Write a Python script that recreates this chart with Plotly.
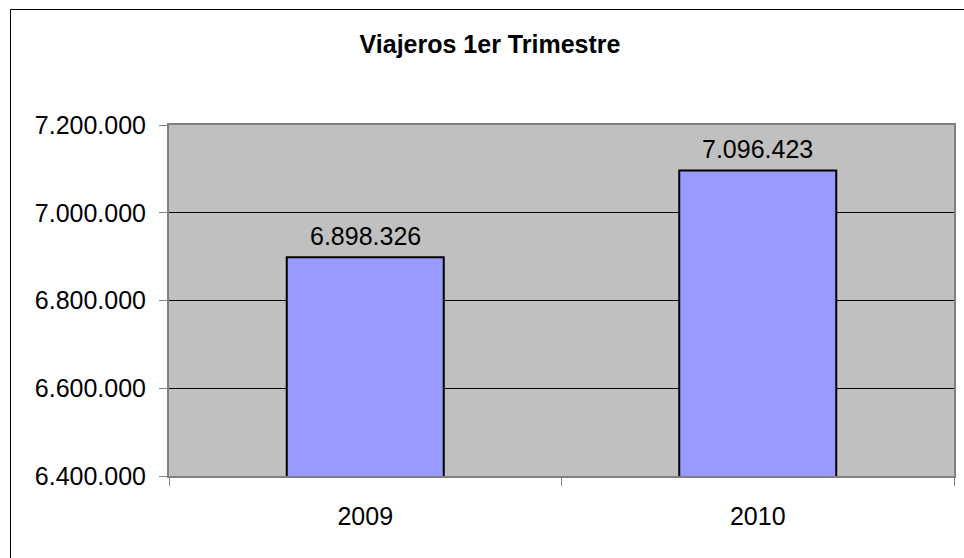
import plotly.graph_objects as go

categories = ["2009", "2010"]
values = [6898326, 7096423]
y_ticks = [6400000, 6600000, 6800000, 7000000, 7200000]

W, H = 964, 558
L, R, T, B = 169, 10, 125, 82
pw, ph = W - L - R, H - T - B
FONT = "Liberation Sans, Arial"

def fmt(v):
    return f"{v:,}".replace(",", ".")

fig = go.Figure()
fig.add_trace(go.Bar(
    x=categories, y=values, width=0.40,
    marker=dict(color="#9999FF", line=dict(color="black", width=2)),
))

# category axis: annotation x given as the category index
for i, v in enumerate(values):
    fig.add_annotation(x=i, y=v, xref="x", yref="y", text=fmt(v), showarrow=False,
                       yanchor="middle", yshift=21,
                       font=dict(family=FONT, size=25, color="black"))

def px_x(p):
    return (p - L) / pw

def px_y(p):
    return (H - B - p) / ph

fig.update_layout(
    width=W, height=H,
    margin=dict(l=L, r=R, t=T, b=B, autoexpand=False),
    paper_bgcolor="white", plot_bgcolor="#C0C0C0",
    showlegend=False,
    title=dict(text="<b>Viajeros 1er Trimestre</b>", x=490 / W, xref="container", xanchor="center",
               y=1 - 44 / H, yref="container", yanchor="middle",
               font=dict(family=FONT, size=25, color="black")),
    font=dict(family=FONT, color="black"),
    shapes=[dict(type="rect", xref="paper", yref="paper",
                 x0=px_x(10.5), x1=px_x(1000), y0=px_y(9.5), y1=px_y(600),
                 line=dict(color="black", width=1), fillcolor="rgba(0,0,0,0)", layer="below")],
)
fig.update_xaxes(
    type="category", categoryorder="array", categoryarray=categories,
    range=[-0.5, len(categories) - 0.5], automargin=False, tickangle=0,
    showgrid=False, showline=True, linecolor="#808080", linewidth=2, mirror=True,
    ticks="outside", tickson="boundaries", ticklen=8, tickcolor="#808080", tickwidth=1,
    tickfont=dict(size=25, color="black"), ticklabelstandoff=17,
)
fig.update_yaxes(
    range=[y_ticks[0], y_ticks[-1]], tickvals=y_ticks, ticktext=[fmt(v) for v in y_ticks],
    automargin=False,
    showgrid=True, gridcolor="black", gridwidth=1,
    showline=True, linecolor="#808080", linewidth=2, mirror=True,
    ticks="outside", ticklen=8, tickcolor="#808080", tickwidth=1,
    tickfont=dict(size=25, color="black"), ticklabelstandoff=8,
    zeroline=False,
)
fig.write_html("out.html", config={"displayModeBar": False},
               post_script="document.body.style.margin='0';document.body.style.overflow='hidden';")
